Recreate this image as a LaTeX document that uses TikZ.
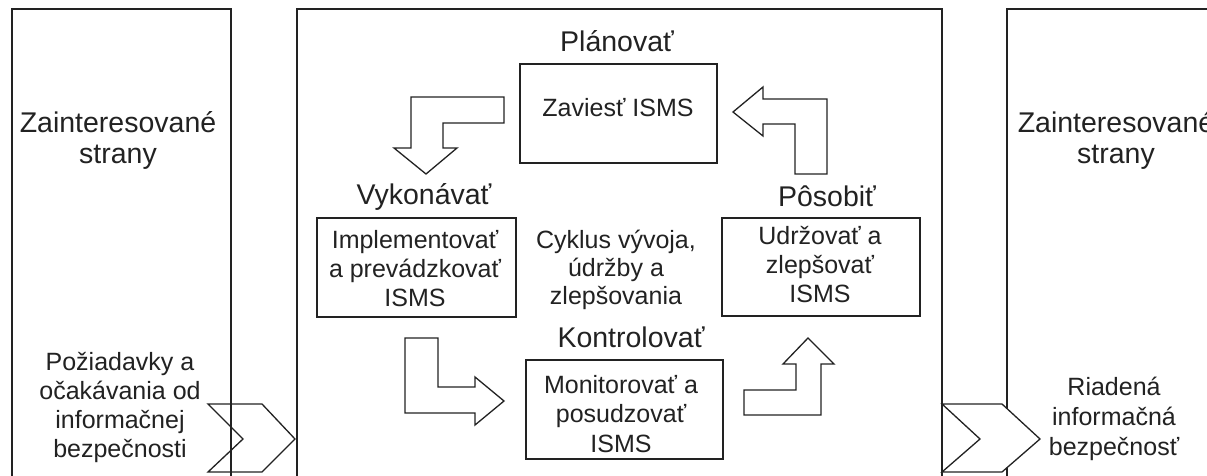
\documentclass[tikz,border=0pt]{standalone}
\usepackage{fontspec}
\setmainfont{Liberation Sans}
\definecolor{ink}{HTML}{222222}
\begin{document}
\begin{tikzpicture}[x=1pt,y=-1pt,
  frame/.style={draw=ink, line width=1.3pt, inner sep=0pt, minimum width=#1},
  blockarrow/.style={draw=ink, line width=1.3pt, line join=miter},
  big/.style={font=\fontsize{28.5}{31}\selectfont, text=ink, inner sep=0pt, align=center, anchor=base},
  small/.style={font=\fontsize{25}{28.8}\selectfont, text=ink, inner sep=0pt, align=center, anchor=base}]
\clip (0,0) rectangle (1207,476);
\fill[white] (0,0) rectangle (1207,476);
% outer boxes
\node[frame=219pt, minimum height=481pt] (lbox) at (121.5,249.5) {};
\node[frame=645pt, minimum height=481pt] (mbox) at (619.5,249.5) {};
\node[frame=219pt, minimum height=481pt] (rbox) at (1116.5,249.5) {};
% inner boxes
\node[frame=197pt, minimum height=99pt] (plan) at (618.5,113.5) {};
\node[frame=199pt, minimum height=99pt] (do) at (416.5,267.5) {};
\node[frame=198pt, minimum height=98pt] (act) at (821,267) {};
\node[frame=197pt, minimum height=99pt] (check) at (624.5,409.5) {};
% texts (multi-line nodes are placed at the baseline of their last line)
\node[big] (lz) at (118,163) {Zainteresované\\strany};
\node[small] (lreq) at (120,457) {Požiadavky a\\očakávania od\\informačnej\\bezpečnosti};
\node[big] (rz) at (1116,163) {Zainteresované\\strany};
\node[small, font=\fontsize{25}{30}\selectfont] (rout) at (1114,455) {Riadená\\informačná\\bezpečnosť};
\node[big] (lplan) at (617,52) {Plánovať};
\node[small] (tplan) at (618,117) {Zaviesť ISMS};
\node[big] (ldo) at (424,204) {Vykonávať};
\node[small] (tdo) at (415,306) {Implementovať\\a prevádzkovať\\ISMS};
\node[small, font=\fontsize{25}{28}\selectfont] (cyc) at (616,304) {Cyklus vývoja,\\údržby a\\zlepšovania};
\node[big] (lact) at (827,206) {Pôsobiť};
\node[small] (tact) at (820,302) {Udržovať a\\zlepšovať\\ISMS};
\node[big] (lcheck) at (631,347) {Kontrolovať};
\node[small, font=\fontsize{25}{29.5}\selectfont] (tcheck) at (621,452) {Monitorovať a\\posudzovať\\ISMS};
% block arrows
\draw[blockarrow] (411,97) -- (504,97) -- (504,123) -- (443,123) -- (443,148) -- (457,148)
  -- (426,174) -- (394,148) -- (411,148) -- cycle;
\draw[blockarrow] (733,112) -- (763,87) -- (763,99) -- (827,99) -- (827,174) -- (795,174)
  -- (795,124) -- (763,124) -- (763,136) -- cycle;
\draw[blockarrow] (405,338) -- (438,338) -- (438,387) -- (475,387) -- (475,377) -- (504,401)
  -- (475,425) -- (475,413) -- (405,413) -- cycle;
\draw[blockarrow] (808,338) -- (834,364) -- (821,364) -- (821,415) -- (744,415) -- (744,390)
  -- (796,390) -- (796,364) -- (783,364) -- cycle;
% chevrons
\draw[blockarrow] (208,404) -- (262,404) -- (295,439) -- (262,472) -- (208,472) -- (243,439) -- cycle;
\draw[blockarrow, fill=white] (942,404) -- (1002,404) -- (1040,439) -- (1002,472) -- (942,472) -- (980,439) -- cycle;
\end{tikzpicture}
\end{document}
